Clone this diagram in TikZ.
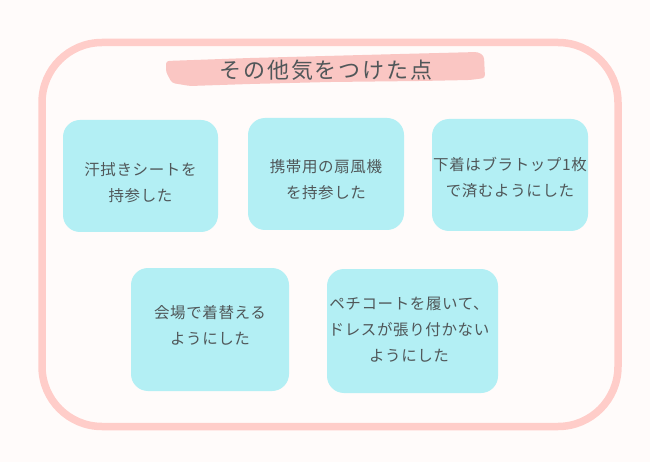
\documentclass[tikz,border=0pt]{standalone}
\usepackage{fontspec}
\newfontfamily\jpfont[LetterSpace=4]{Noto Sans CJK JP}
\newfontfamily\jptitle[LetterSpace=9]{Noto Sans CJK JP}
\usetikzlibrary{positioning,calc}
\definecolor{paper}{HTML}{FFFBFA}
\definecolor{framepink}{HTML}{FFCDC9}
\definecolor{brushpink}{HTML}{FAC6C3}
\definecolor{cardcyan}{HTML}{B3EFF4}
\definecolor{inkgray}{HTML}{505759}
\tikzset{
	card/.style={fill=cardcyan, rounded corners=17pt, inner sep=0pt},
	cardtext/.style={text=inkgray, align=center, inner sep=0pt,
		font=\jpfont\fontsize{15.5}{26}\selectfont},
}

\begin{document}
\begin{tikzpicture}[x=1pt,y=-1pt]
\useasboundingbox (0,0) rectangle (650,462);
\fill[paper] (0,0) rectangle (650,462);
\coordinate[] (F1) at (42,42.5);
\coordinate[] (F2) at (618,426.5);
\draw[framepink,line width=7.5pt,rounded corners=60pt] (F1) rectangle (F2);

% title brush
\fill[brushpink,rounded corners=3pt] (166,61) -- (250,58) -- (400,54) -- (478,52) -- (484,56)
	-- (485,78) -- (470,80) -- (420,81) -- (330,82) -- (250,84) -- (190,86) -- (172,83) -- (166,72) -- cycle;
\node[text=inkgray,inner sep=0pt,font=\jptitle\fontsize{22}{26}\selectfont] (title) at (326,70) {その他気をつけた点};

% cards
\node[card,minimum width=155pt,minimum height=112pt] (sweat) at (140.5,176) {};
\node[card,minimum width=156pt,minimum height=112pt] (fan) at (326,174) {};
\node[card,minimum width=156pt,minimum height=112pt] (bra) at (510,175) {};
\node[card,minimum width=158pt,minimum height=123pt] (change) at (210,329.5) {};
\node[card,minimum width=171pt,minimum height=124pt] (petti) at (412.5,331) {};

\node[cardtext] (sweattxt) at (140.5,182.5) {汗拭きシートを\\持参した};
\node[cardtext] (fantxt) at (326,180) {携帯用の扇風機\\を持参した};
\node[cardtext] (bratxt) at (510,178) {下着はブラトップ1枚\\で済むようにした};
\node[cardtext] (changetxt) at (210,325.5) {会場で着替える\\ようにした};
\node[cardtext] (pettitxt) at (409,330) {ペチコートを履いて、\\ドレスが張り付かない\\ようにした};
\end{tikzpicture}
\end{document}
